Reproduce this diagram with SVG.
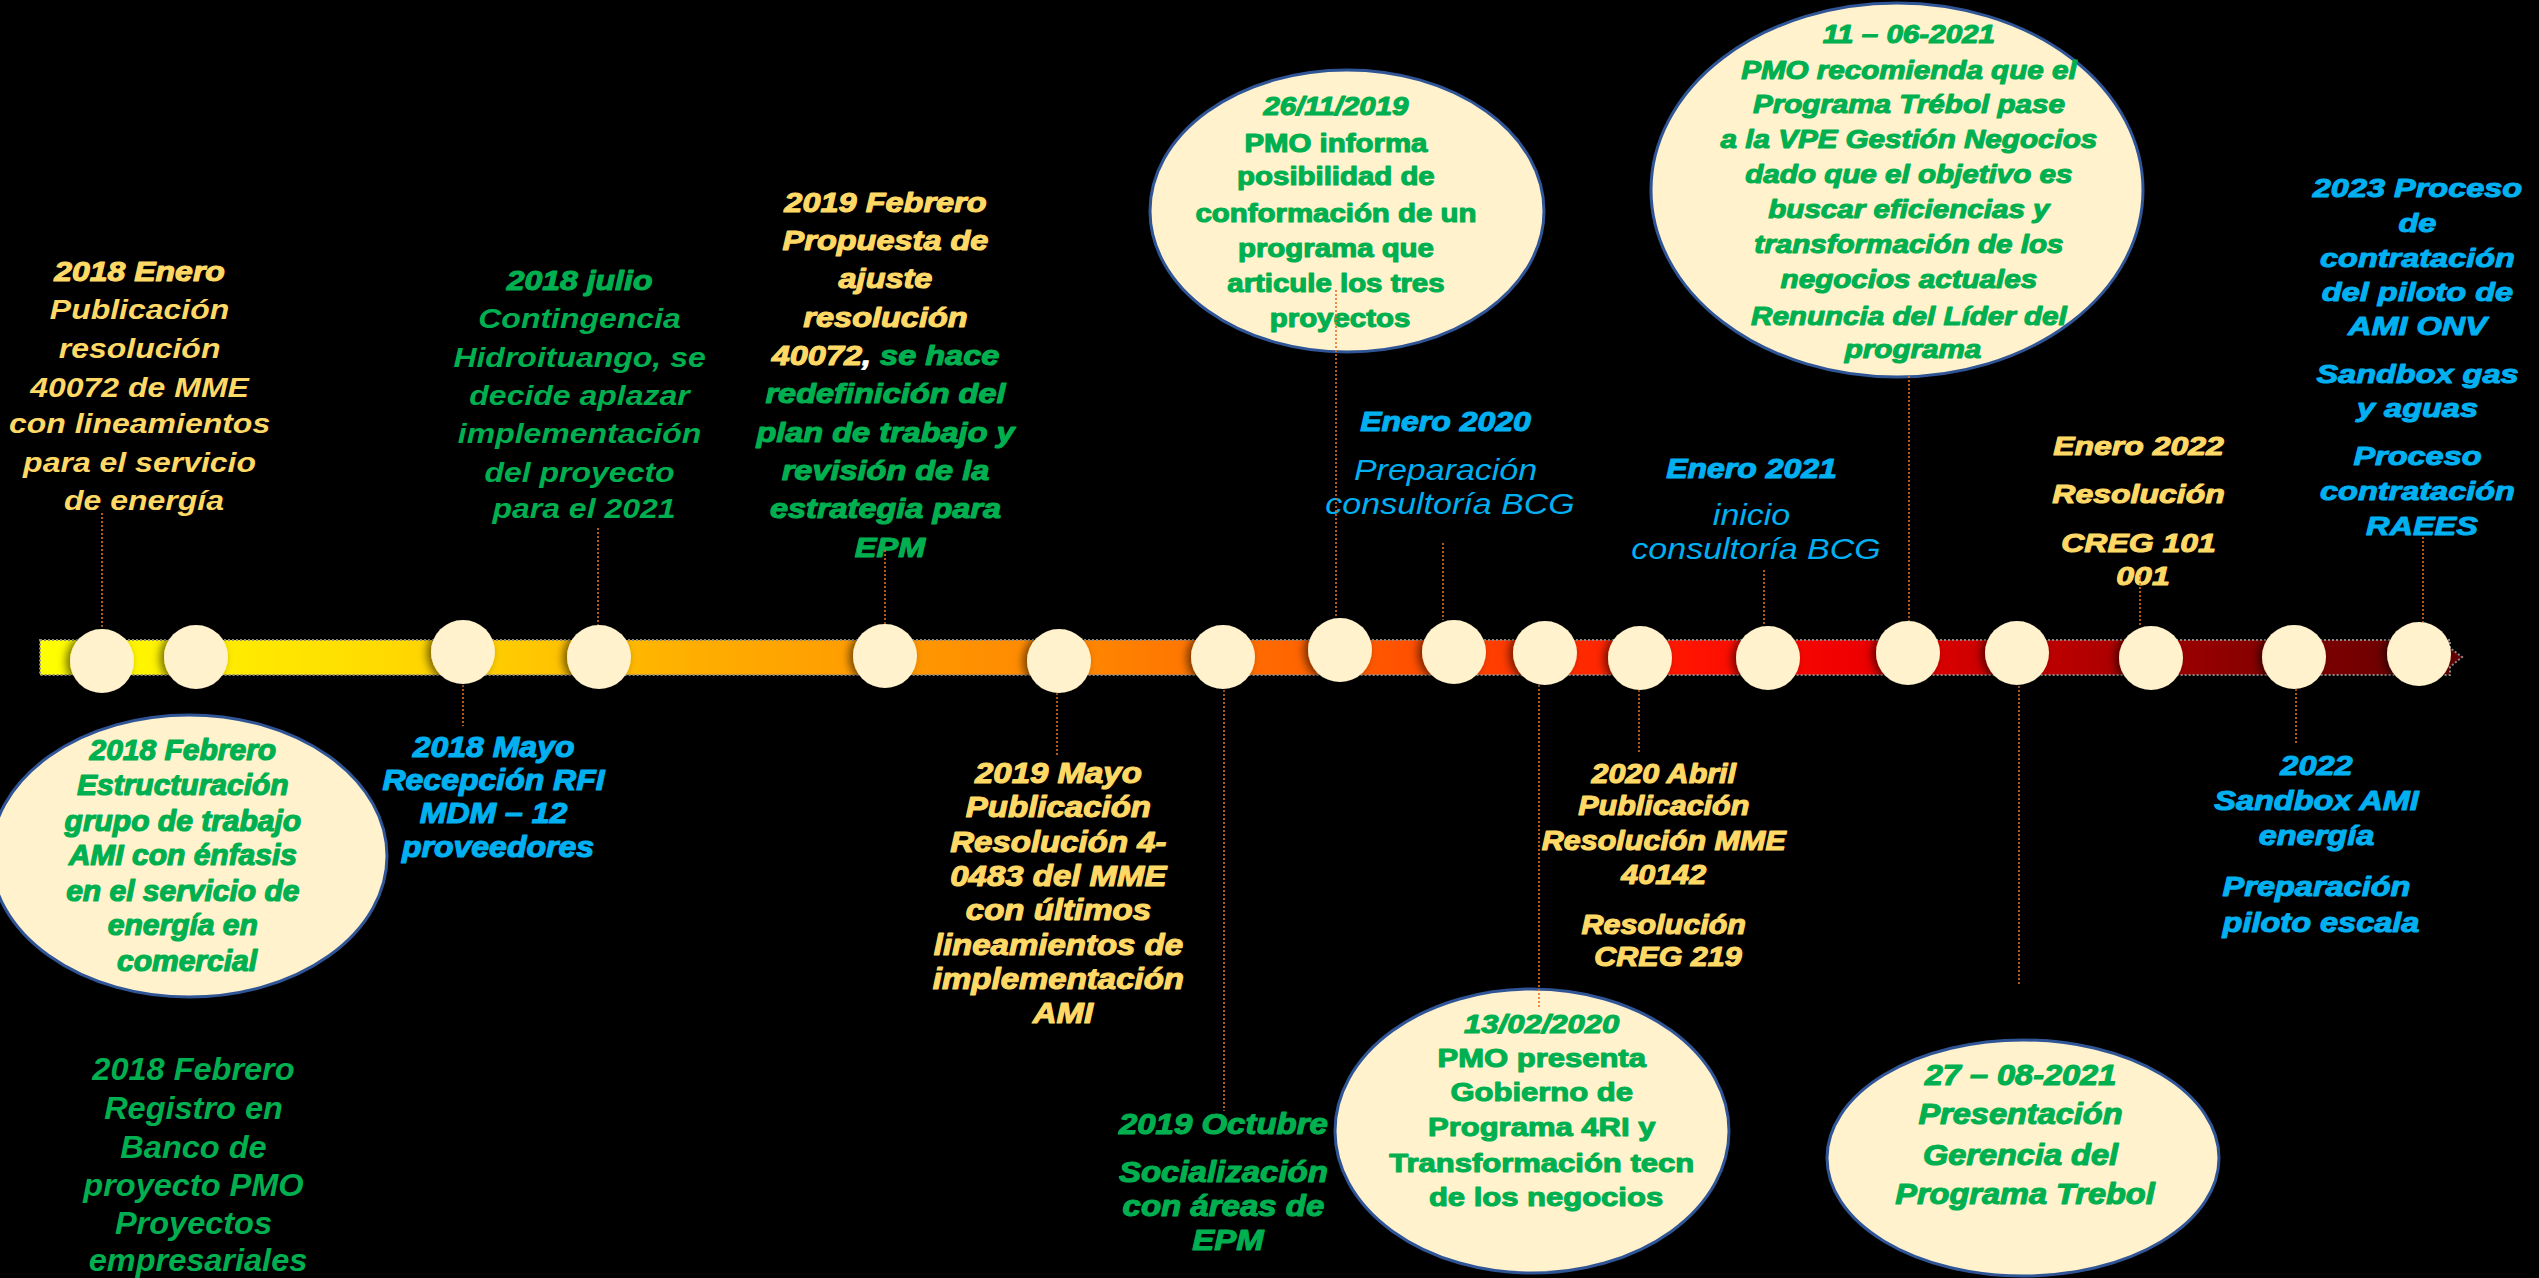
<svg xmlns="http://www.w3.org/2000/svg" width="2539" height="1278" viewBox="0 0 2539 1278">
<defs>
<linearGradient id="barg" gradientUnits="userSpaceOnUse" x1="40" y1="0" x2="2462" y2="0">
<stop offset="0" stop-color="#FFFF00"/>
<stop offset="0.107" stop-color="#FFE400"/>
<stop offset="0.19" stop-color="#FFCC00"/>
<stop offset="0.27" stop-color="#FFAE00"/>
<stop offset="0.355" stop-color="#FF9800"/>
<stop offset="0.437" stop-color="#FF8400"/>
<stop offset="0.52" stop-color="#FF6400"/>
<stop offset="0.58" stop-color="#FF4A00"/>
<stop offset="0.62" stop-color="#FF3200"/>
<stop offset="0.685" stop-color="#FF1200"/>
<stop offset="0.747" stop-color="#F00000"/>
<stop offset="0.79" stop-color="#D50000"/>
<stop offset="0.85" stop-color="#B00000"/>
<stop offset="0.91" stop-color="#8A0000"/>
<stop offset="1" stop-color="#600000"/>
</linearGradient>
<filter id="sh" x="-50%" y="-50%" width="200%" height="200%">
<feDropShadow dx="-4" dy="1" stdDeviation="4" flood-color="#000" flood-opacity="0.55"/>
</filter>
<style>
.bg{fill:#000}
.bar{fill:url(#barg);stroke:#8A8A8A;stroke-width:2;stroke-dasharray:2 2}
.t{font-family:"Liberation Sans",Arial,sans-serif;font-weight:700;font-style:italic;text-anchor:middle;stroke-width:0}
.h{stroke-width:1.3px;stroke-linejoin:round}
.up{font-style:normal}
.rg{font-weight:400}
.y{fill:#FFD966;stroke:#FFD966}
.g{fill:#00B050;stroke:#00B050}
.c{fill:#00B0F0;stroke:#00B0F0}
.w{fill:#FFFFFF;stroke:#FFFFFF}
.dot{fill:#FFF2CC;filter:url(#sh)}
.ell{fill:#FFF2CC;stroke:#2F5597;stroke-width:3}
.con{stroke:#E0701E;stroke-width:1.6;stroke-dasharray:2 2;fill:none}
</style>
</defs>
<rect class="bg" x="0" y="0" width="2539" height="1278"/>
<g id="timeline-bar">
<path class="bar" d="M40,640 H2450 V648 L2462,657 L2450,667 V675 H40 Z"/>
</g>

<g id="ev-2018-enero">
<text class="t y" font-size="32" transform="matrix(1 0 0 0.86 144 281)">
<tspan x="0" y="0" class="h">2018 Enero</tspan>
<tspan x="0" y="44.2">Publicación</tspan>
<tspan x="0" y="89.5">resolución</tspan>
<tspan x="0" y="134.9">40072 de MME</tspan>
<tspan x="0" y="176.7">con lineamientos</tspan>
<tspan x="0" y="222.1">para el servicio</tspan>
<tspan x="0" y="266.3">de energía</tspan>
</text>
</g>

<g id="ev-2018-julio">
<text class="t g" font-size="32" transform="matrix(1 0 0 0.86 584 290)">
<tspan x="0" y="0" class="h">2018 julio</tspan>
<tspan x="0" y="44.2">Contingencia</tspan>
<tspan x="0" y="89.5">Hidroituango, se</tspan>
<tspan x="0" y="133.7">decide aplazar</tspan>
<tspan x="0" y="177.9">implementación</tspan>
<tspan x="0" y="223.3">del proyecto</tspan>
<tspan x="0" y="265.1">para el 2021</tspan>
</text>
</g>

<g id="ev-2018-febrero-estructuracion">
<ellipse class="ell" cx="189" cy="856" rx="198" ry="141"/>
<text class="t g h" font-size="30" transform="matrix(1 0 0 0.96 187 760)">
<tspan x="0" y="0">2018 Febrero</tspan>
<tspan x="0" y="36.5">Estructuración</tspan>
<tspan x="0" y="74">grupo de trabajo</tspan>
<tspan x="0" y="109.4">AMI con énfasis</tspan>
<tspan x="0" y="146.9">en el servicio de</tspan>
<tspan x="0" y="182.3">energía en</tspan>
<tspan x="0" y="219.8">comercial</tspan>
</text>
</g>

<g id="ev-2018-febrero-registro">
<text class="t g" font-size="32.5" transform="matrix(1 0 0 0.96 198 1080)">
<tspan x="0" y="0">2018 Febrero</tspan>
<tspan x="0" y="40.6">Registro en</tspan>
<tspan x="0" y="81.3">Banco de</tspan>
<tspan x="0" y="120.8">proyecto PMO</tspan>
<tspan x="0" y="160.4">Proyectos</tspan>
<tspan x="0" y="199">empresariales</tspan>
</text>
</g>

<g id="ev-2018-mayo">
<text class="t c h" font-size="32" transform="matrix(1 0 0 0.95 498 757)">
<tspan x="0" y="0">2018 Mayo</tspan>
<tspan x="0" y="34.7">Recepción RFI</tspan>
<tspan x="0" y="69.5">MDM – 12</tspan>
<tspan x="0" y="105.3">proveedores</tspan>
</text>
</g>

<g id="ev-2019-febrero">
<text class="t y h" font-size="32.5" transform="matrix(1 0 0 0.86 890 212)">
<tspan x="0" y="0">2019 Febrero</tspan>
<tspan x="0" y="44.2">Propuesta de</tspan>
<tspan x="0" y="88.4">ajuste</tspan>
<tspan x="0" y="133.7">resolución</tspan>
<tspan x="0" y="177.9">40072<tspan class="w">,</tspan><tspan class="g"> se hace</tspan></tspan>
<tspan x="0" y="222.1" class="g">redefinición del</tspan>
<tspan x="0" y="267.4" class="g">plan de trabajo y</tspan>
<tspan x="0" y="311.6" class="g">revisión de la</tspan>
<tspan x="0" y="355.8" class="g">estrategia para</tspan>
<tspan x="0" y="401.2" class="g">EPM</tspan>
</text>
</g>

<g id="ev-2019-mayo">
<text class="t y h" font-size="33" transform="matrix(1 0 0 0.88 1063 783)">
<tspan x="0" y="0">2019 Mayo</tspan>
<tspan x="0" y="38.6">Publicación</tspan>
<tspan x="0" y="78.4">Resolución 4-</tspan>
<tspan x="0" y="117">0483 del MME</tspan>
<tspan x="0" y="155.7">con últimos</tspan>
<tspan x="0" y="195.5">lineamientos de</tspan>
<tspan x="0" y="234.1">implementación</tspan>
<tspan x="0" y="272.7">AMI</tspan>
</text>
</g>

<g id="ev-2019-octubre">
<text class="t g h" font-size="33" transform="matrix(1 0 0 0.88 1228 1134)">
<tspan x="0" y="0">2019 Octubre</tspan>
<tspan x="0" y="54.5">Socialización</tspan>
<tspan x="0" y="93.2">con áreas de</tspan>
<tspan x="0" y="131.8">EPM</tspan>
</text>
</g>

<g id="ev-2019-11-26">
<ellipse class="ell" cx="1347" cy="211" rx="197" ry="141"/>
<text class="t g h" font-size="29.4" transform="matrix(1 0 0 0.87 1340 115)">
<tspan x="0" y="0">26/11/2019</tspan>
<tspan x="0" y="42.5" class="up">PMO informa</tspan>
<tspan x="0" y="80.5" class="up">posibilidad de</tspan>
<tspan x="0" y="123" class="up">conformación de un</tspan>
<tspan x="0" y="163.2" class="up">programa que</tspan>
<tspan x="0" y="203.4" class="up">articule los tres</tspan>
<tspan x="0" y="243.7" class="up">proyectos</tspan>
</text>
</g>

<g id="ev-2020-enero">
<text class="t c" font-size="32" transform="matrix(1 0 0 0.86 1450 431)">
<tspan x="0" y="0" class="h">Enero 2020</tspan>
<tspan x="0" y="57" class="rg" font-size="34">Preparación</tspan>
<tspan x="0" y="96.5" class="rg" font-size="34">consultoría BCG</tspan>
</text>
</g>

<g id="ev-2020-02-13">
<ellipse class="ell" cx="1532" cy="1131" rx="197" ry="142"/>
<text class="t g h" font-size="31" transform="matrix(1 0 0 0.86 1546 1033)">
<tspan x="0" y="0">13/02/2020</tspan>
<tspan x="0" y="39.5" class="up">PMO presenta</tspan>
<tspan x="0" y="79.1" class="up">Gobierno de</tspan>
<tspan x="0" y="119.8" class="up">Programa 4RI y</tspan>
<tspan x="0" y="161.6" class="up">Transformación tecn</tspan>
<tspan x="0" y="201.2" class="up">de los negocios</tspan>
</text>
</g>

<g id="ev-2020-abril">
<text class="t y h" font-size="30.5" transform="matrix(1 0 0 0.9 1668 783)">
<tspan x="0" y="0">2020 Abril</tspan>
<tspan x="0" y="35.6">Publicación</tspan>
<tspan x="0" y="74.4">Resolución MME</tspan>
<tspan x="0" y="112.2">40142</tspan>
<tspan x="0" y="167.8">Resolución</tspan>
<tspan x="0" y="203.3">CREG 219</tspan>
</text>
</g>

<g id="ev-2021-enero">
<text class="t c" font-size="32" transform="matrix(1 0 0 0.86 1756 478)">
<tspan x="0" y="0" class="h">Enero 2021</tspan>
<tspan x="0" y="54.7" class="rg" font-size="34">inicio</tspan>
<tspan x="0" y="94.2" class="rg" font-size="34">consultoría BCG</tspan>
</text>
</g>

<g id="ev-2021-06-11">
<ellipse class="ell" cx="1897" cy="190" rx="246" ry="187"/>
<text class="t g h" font-size="29.6" transform="matrix(1 0 0 0.84 1913 43)">
<tspan x="0" y="0">11 – 06-2021</tspan>
<tspan x="0" y="42.9">PMO recomienda que el</tspan>
<tspan x="0" y="83.3">Programa Trébol pase</tspan>
<tspan x="0" y="125">a la VPE Gestión Negocios</tspan>
<tspan x="0" y="166.7">dado que el objetivo es</tspan>
<tspan x="0" y="208.3">buscar eficiencias y</tspan>
<tspan x="0" y="250">transformación de los</tspan>
<tspan x="0" y="291.7">negocios actuales</tspan>
<tspan x="0" y="335.7">Renuncia del Líder del</tspan>
<tspan x="0" y="375">programa</tspan>
</text>
</g>

<g id="ev-2021-08-27">
<ellipse class="ell" cx="2023" cy="1158" rx="196" ry="118"/>
<text class="t g h" font-size="32.5" transform="matrix(1 0 0 0.88 2025 1085)">
<tspan x="0" y="0">27 – 08-2021</tspan>
<tspan x="0" y="44.3">Presentación</tspan>
<tspan x="0" y="90.9">Gerencia del</tspan>
<tspan x="0" y="135.2">Programa Trebol</tspan>
</text>
</g>

<g id="ev-2022-enero">
<text class="t y h" font-size="32" transform="matrix(1 0 0 0.82 2143 455)">
<tspan x="0" y="0">Enero 2022</tspan>
<tspan x="0" y="58.5">Resolución</tspan>
<tspan x="0" y="118.3">CREG 101</tspan>
<tspan x="0" y="158.5">001</tspan>
</text>
</g>

<g id="ev-2022">
<text class="t c h" font-size="32.5" transform="matrix(1 0 0 0.86 2321 775)">
<tspan x="0" y="0">2022</tspan>
<tspan x="0" y="40.7">Sandbox AMI</tspan>
<tspan x="0" y="81.4">energía</tspan>
<tspan x="0" y="140.7">Preparación</tspan>
<tspan x="0" y="182.6">piloto escala</tspan>
</text>
</g>

<g id="ev-2023">
<text class="t c h" font-size="32.5" transform="matrix(1 0 0 0.82 2422 197)">
<tspan x="0" y="0">2023 Proceso</tspan>
<tspan x="0" y="42.7">de</tspan>
<tspan x="0" y="85.4">contratación</tspan>
<tspan x="0" y="126.8">del piloto de</tspan>
<tspan x="0" y="168.3">AMI ONV</tspan>
<tspan x="0" y="226.8">Sandbox gas</tspan>
<tspan x="0" y="268.3">y aguas</tspan>
<tspan x="0" y="326.8">Proceso</tspan>
<tspan x="0" y="369.5">contratación</tspan>
<tspan x="0" y="412.2">RAEES</tspan>
</text>
</g>

<g id="connectors">
<line class="con" x1="102" y1="513" x2="102" y2="629"/>
<line class="con" x1="463" y1="685" x2="463" y2="726"/>
<line class="con" x1="598" y1="528" x2="598" y2="625"/>
<line class="con" x1="885" y1="550" x2="885" y2="624"/>
<line class="con" x1="1057" y1="693" x2="1057" y2="757"/>
<line class="con" x1="1224" y1="690" x2="1224" y2="1111"/>
<line class="con" x1="1336" y1="290" x2="1336" y2="618"/>
<line class="con" x1="1443" y1="543" x2="1443" y2="620"/>
<line class="con" x1="1539" y1="685" x2="1539" y2="1008"/>
<line class="con" x1="1639" y1="690" x2="1639" y2="752"/>
<line class="con" x1="1764" y1="570" x2="1764" y2="626"/>
<line class="con" x1="1909" y1="376" x2="1909" y2="621"/>
<line class="con" x1="2019" y1="686" x2="2019" y2="985"/>
<line class="con" x1="2140" y1="575" x2="2140" y2="626"/>
<line class="con" x1="2296" y1="689" x2="2296" y2="745"/>
<line class="con" x1="2423" y1="537" x2="2423" y2="622"/>
</g>

<g id="dot-01"><circle class="dot" cx="102" cy="661" r="32"/></g>
<g id="dot-02"><circle class="dot" cx="196" cy="657" r="32"/></g>
<g id="dot-03"><circle class="dot" cx="463" cy="652" r="32"/></g>
<g id="dot-04"><circle class="dot" cx="599" cy="657" r="32"/></g>
<g id="dot-05"><circle class="dot" cx="885" cy="656" r="32"/></g>
<g id="dot-06"><circle class="dot" cx="1059" cy="661" r="32"/></g>
<g id="dot-07"><circle class="dot" cx="1223" cy="657" r="32"/></g>
<g id="dot-08"><circle class="dot" cx="1340" cy="650" r="32"/></g>
<g id="dot-09"><circle class="dot" cx="1454" cy="652" r="32"/></g>
<g id="dot-10"><circle class="dot" cx="1545" cy="653" r="32"/></g>
<g id="dot-11"><circle class="dot" cx="1640" cy="658" r="32"/></g>
<g id="dot-12"><circle class="dot" cx="1768" cy="658" r="32"/></g>
<g id="dot-13"><circle class="dot" cx="1908" cy="653" r="32"/></g>
<g id="dot-14"><circle class="dot" cx="2017" cy="653" r="32"/></g>
<g id="dot-15"><circle class="dot" cx="2151" cy="658" r="32"/></g>
<g id="dot-16"><circle class="dot" cx="2294" cy="657" r="32"/></g>
<g id="dot-17"><circle class="dot" cx="2419" cy="654" r="32"/></g>
</svg>
